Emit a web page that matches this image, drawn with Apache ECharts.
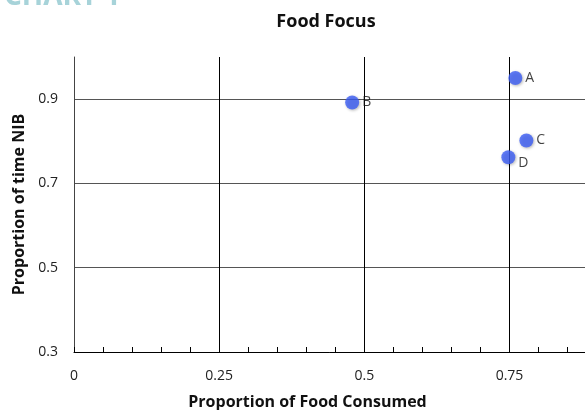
<!DOCTYPE html>
<html>
<head>
<meta charset="utf-8">
<script src="https://cdn.jsdelivr.net/npm/echarts@6/dist/echarts.min.js"></script>
<style>
  html, body { margin: 0; padding: 0; background: #fff; }
  #chart { width: 585px; height: 410px; }
</style>
</head>
<body>
<div id="chart"></div>
<script>
'use strict';
// data
var pointNames = ['A', 'B', 'C', 'D'];
var foodConsumed = [0.76, 0.479, 0.779, 0.748];
var timeNIB = [0.95, 0.892, 0.802, 0.762];
var xTicks = [0, 0.25, 0.5, 0.75];
var yTicks = [0.3, 0.5, 0.7, 0.9];

var points = pointNames.map(function (n, i) {
    var p = { name: n, value: [foodConsumed[i], timeNIB[i]] };
    if (n === 'D') {
        p.label = { offset: [0, 6] };
    }
    return p;
});

var myChart = echarts.init(document.getElementById('chart'));
var fontFam = '"Open Sans", "Liberation Sans", sans-serif';

var option = {
    animation: false,
    textStyle: { fontFamily: fontFam },
    title: {
        text: 'Food Focus',
        left: 321,
        textAlign: 'center',
        top: 8,
        textStyle: { fontSize: 18, fontWeight: 'bold', color: '#111', fontFamily: fontFam }
    },
    graphic: [{
        type: 'text',
        x: 4,
        y: -17,
        silent: true,
        style: { text: 'CHART 1', fontSize: 28, fontWeight: 'bold', fill: '#a7d3d9', fontFamily: fontFam }
    }],
    grid: { left: 74, top: 57, right: 0, bottom: 58, outerBoundsMode: 'none', containLabel: false },
    xAxis: {
        type: 'value',
        min: 0,
        max: 0.88,
        interval: 0.25,
        name: 'Proportion of Food Consumed',
        nameLocation: 'middle',
        nameGap: 42,
        nameTextStyle: { fontSize: 16, fontWeight: 'bold', color: '#111', padding: [0, 44, 0, 0], fontFamily: fontFam },
        axisLine: { lineStyle: { color: '#000', width: 1 } },
        axisTick: { show: true, inside: true, length: 5, lineStyle: { color: '#000' } },
        minorTick: { show: true, splitNumber: 5, length: 5, lineStyle: { color: '#000' } },
        axisLabel: {
            showMaxLabel: false,
            margin: 17,
            fontSize: 14,
            color: '#222',
            formatter: function (v) { return xTicks.indexOf(v) >= 0 ? String(v) : ''; }
        },
        splitLine: { show: true, lineStyle: { color: '#000', width: 1 } }
    },
    yAxis: {
        type: 'value',
        min: 0.3,
        max: 1.0,
        interval: 0.2,
        name: 'Proportion of time NIB',
        nameLocation: 'middle',
        nameGap: 47,
        nameTextStyle: { fontSize: 16, fontWeight: 'bold', color: '#111', fontFamily: fontFam },
        axisLine: { show: true, lineStyle: { color: '#444', width: 1 } },
        axisTick: { show: false },
        axisLabel: {
            showMaxLabel: false,
            margin: 16,
            fontSize: 14,
            color: '#222',
            formatter: function (v) {
                var r = Math.round(v * 10) / 10;
                return yTicks.indexOf(r) >= 0 ? String(r) : '';
            }
        },
        splitLine: { show: true, lineStyle: { color: ['#555', '#555', '#555', '#555', 'rgba(0,0,0,0)'], width: 1 } }
    },
    series: [{
        type: 'scatter',
        data: points,
        symbolSize: 14,
        itemStyle: {
            color: '#3b5cf5',
            shadowBlur: 3,
            shadowColor: 'rgba(0,0,0,0.35)',
            shadowOffsetX: 1,
            shadowOffsetY: 1
        },
        label: {
            show: true,
            position: 'right',
            distance: 3,
            formatter: '{b}',
            color: '#111',
            fontSize: 14
        }
    }]
};
myChart.setOption(option);
</script>
</body>
</html>
